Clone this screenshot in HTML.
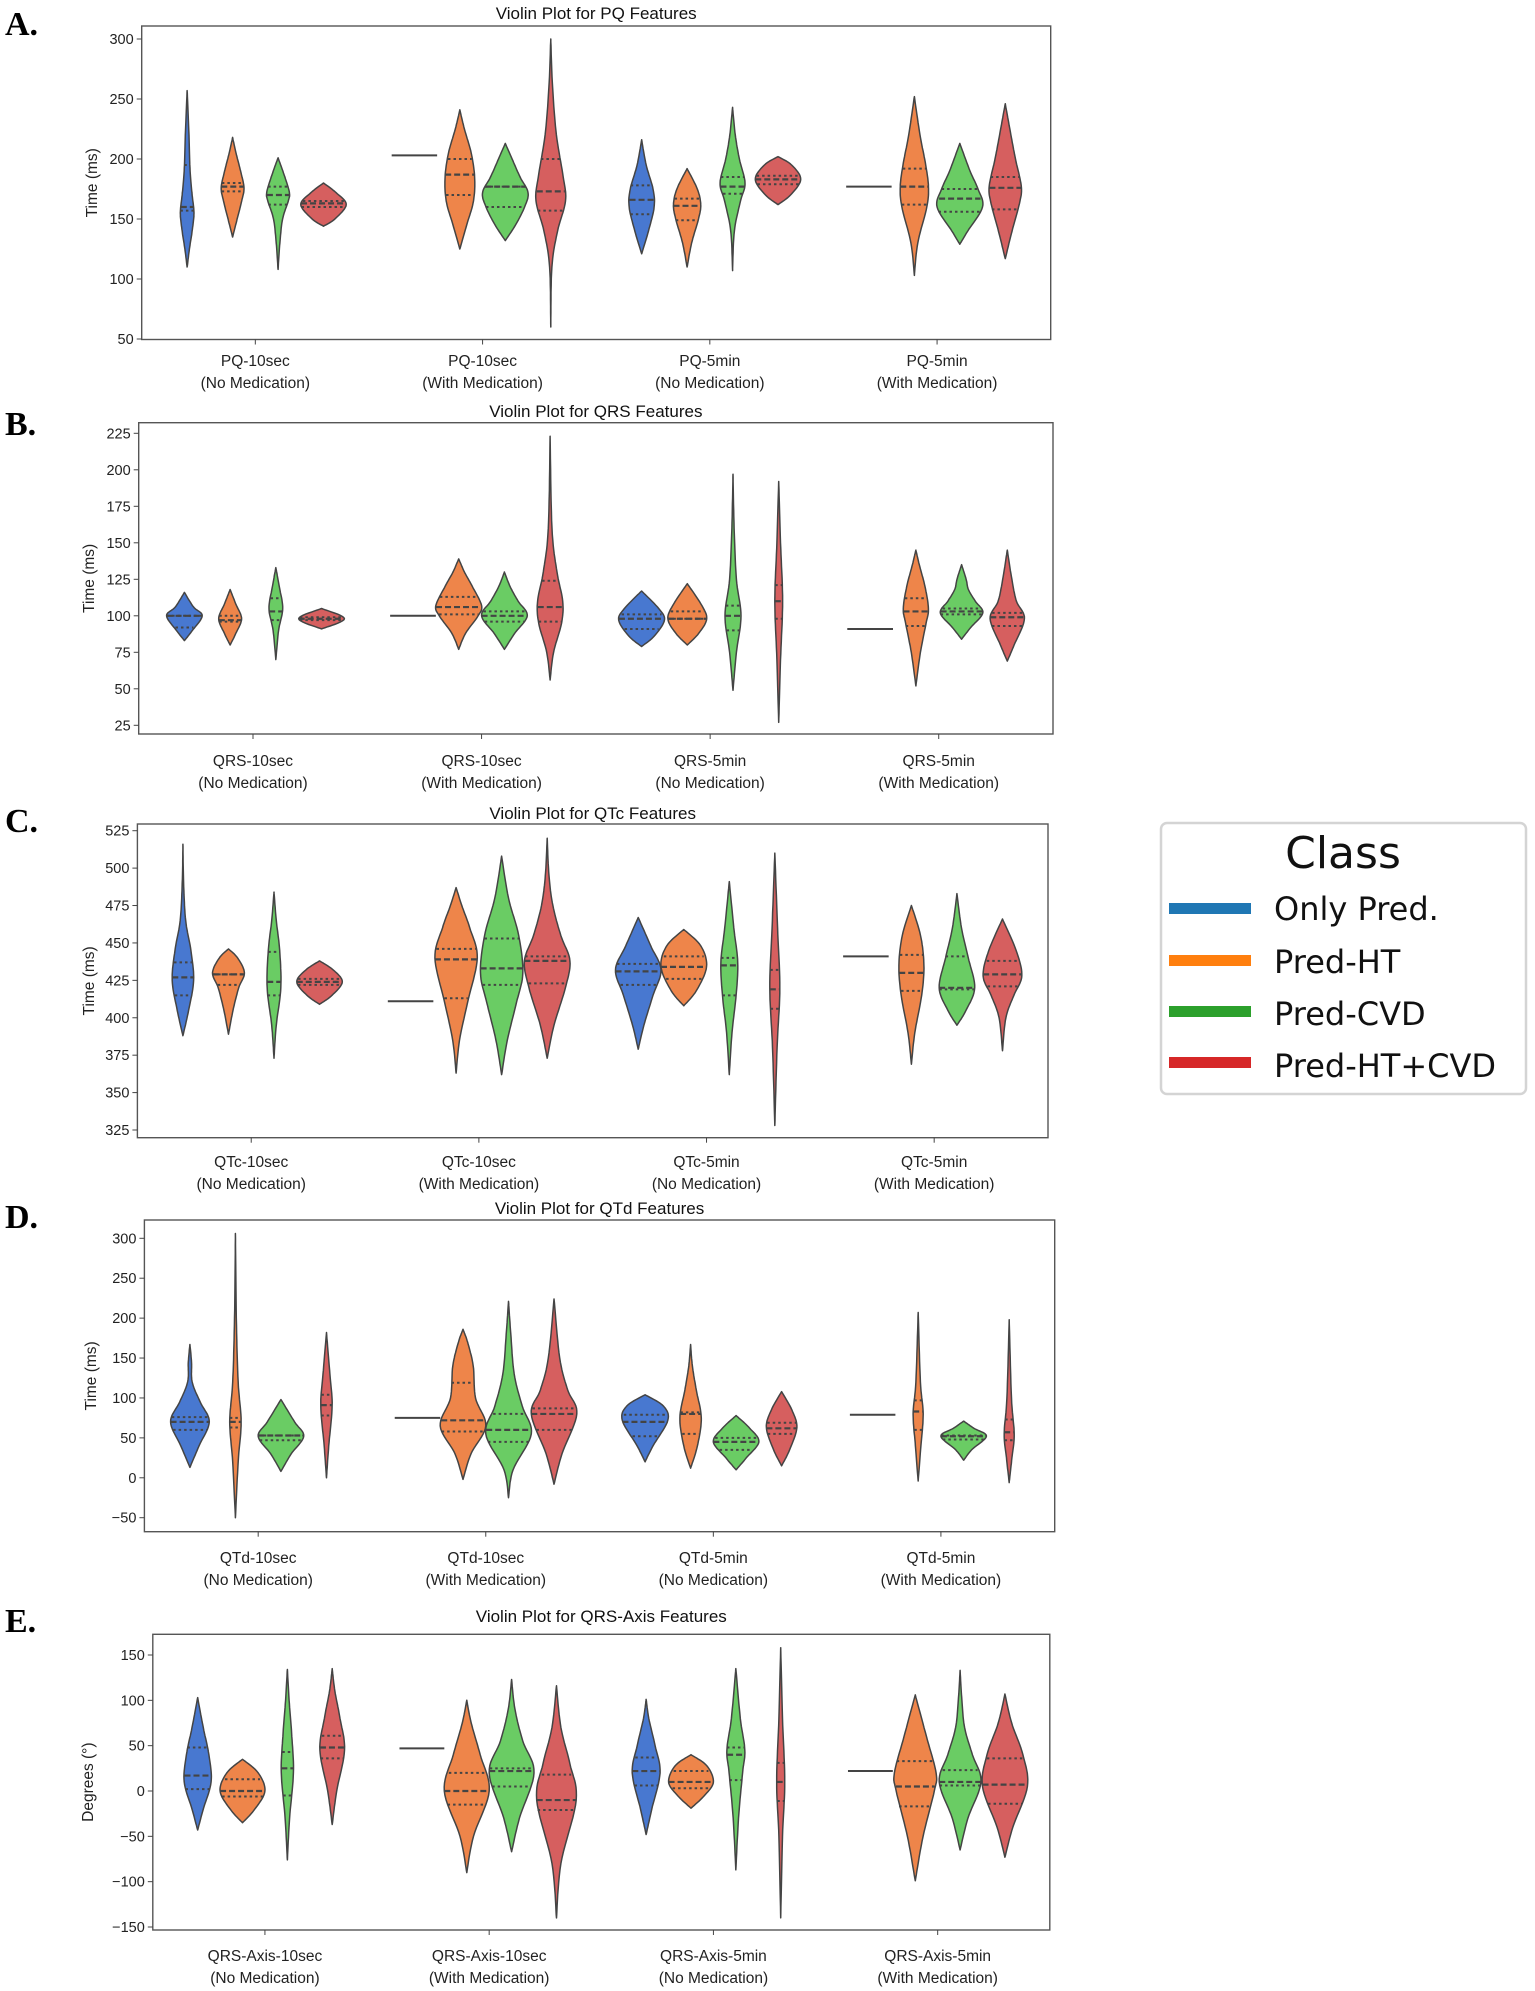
<!DOCTYPE html>
<html><head><meta charset="utf-8"><style>
html,body{margin:0;padding:0;background:#fff;}
svg{display:block;font-family:"Liberation Sans","DejaVu Sans",sans-serif;}
</style></head><body>
<svg id="fig" width="1535" height="1991" viewBox="0 0 1535 1991" xmlns="http://www.w3.org/2000/svg">
<g>
<rect x="1161" y="823" width="365" height="271" rx="6" fill="#fff" stroke="#d4d4d4" stroke-width="2.5"/>
<text x="1343" y="868" font-size="44" text-anchor="middle" font-family="DejaVu Sans,sans-serif" fill="#111">Class</text>
<g><rect x="1169" y="903" width="82" height="11" fill="#1f77b4"/><text x="1274" y="920" font-size="32" font-family="DejaVu Sans,sans-serif" fill="#111">Only Pred.</text></g>
<g><rect x="1169" y="955" width="82" height="11" fill="#ff7f0e"/><text x="1274" y="973" font-size="32" font-family="DejaVu Sans,sans-serif" fill="#111">Pred-HT</text></g>
<g><rect x="1169" y="1006" width="82" height="11" fill="#2ca02c"/><text x="1274" y="1025" font-size="32" font-family="DejaVu Sans,sans-serif" fill="#111">Pred-CVD</text></g>
<g><rect x="1169" y="1057" width="82" height="11" fill="#d62728"/><text x="1274" y="1077" font-size="32" font-family="DejaVu Sans,sans-serif" fill="#111">Pred-HT+CVD</text></g>
</g>
</svg>
<script>
// ---- shared ----
const classNames = ["only-pred","pred-ht","pred-cvd","pred-ht-cvd"];
const medLabels = ["(No Medication)","(With Medication)","(No Medication)","(With Medication)"];

// ---- Panel A: PQ ----
const pqCategories = ["PQ-10sec","PQ-10sec","PQ-5min","PQ-5min"];
const pqTicks = [50,100,150,200,250,300];
const pqOnlyPred = [
 {q:[157,160,195],p:[[110,0],[125,0.1],[140,0.22],[155,0.3],[170,0.22],[190,0.13],[220,0.08],[257,0]]},
 {single:203},
 {q:[154,166,178],p:[[121,0],[140,0.3],[160,0.55],[175,0.5],[195,0.2],[216,0]]},
 {single:177}];
const pqPredHT = [
 {q:[173,177,180],p:[[135,0],[150,0.2],[165,0.4],[176,0.5],[190,0.35],[205,0.15],[218,0]]},
 {q:[170,187,200],p:[[125,0],[145,0.3],[165,0.6],[185,0.65],[205,0.5],[225,0.2],[241,0]]},
 {q:[149,161,167],p:[[110,0],[130,0.2],[150,0.5],[162,0.6],[175,0.45],[192,0]]},
 {q:[162,177,192],p:[[103,0],[130,0.15],[160,0.55],[177,0.62],[195,0.5],[220,0.25],[252,0]]}];
const pqPredCVD = [
 {q:[162,170,177],p:[[108,0],[130,0.08],[150,0.2],[165,0.45],[172,0.5],[185,0.3],[201,0]]},
 {q:[160,177,177],p:[[132,0],[145,0.45],[160,0.85],[172,1],[185,0.65],[200,0.3],[213,0]]},
 {q:[171,177,185],p:[[107,0],[140,0.08],[165,0.35],[180,0.55],[200,0.3],[220,0.12],[243,0]]},
 {q:[156,167,175],p:[[129,0],[140,0.35],[160,1],[175,0.8],[190,0.45],[213,0]]}];
const pqPredHTCVD = [
 {q:[160,163,165],p:[[144,0],[150,0.5],[162,1],[172,0.55],[180,0]]},
 {q:[157,173,200],p:[[60,0],[110,0.05],[140,0.3],[165,0.65],[185,0.55],[220,0.25],[260,0.08],[300,0]]},
 {q:[179,183,186],p:[[162,0],[170,0.55],[183,1],[195,0.6],[202,0]]},
 {q:[158,176,185],p:[[117,0],[140,0.3],[165,0.65],[178,0.7],[200,0.45],[220,0.25],[246,0]]}];

// ---- Panel B: QRS ----
const qrsCategories = ["QRS-10sec","QRS-10sec","QRS-5min","QRS-5min"];
const qrsTicks = [25,50,75,100,125,150,175,200,225];
const qrsOnlyPred = [
 {q:[92,100,100],p:[[83,0],[90,0.35],[100,0.78],[106,0.4],[116,0]]},
 {single:100},
 {q:[91,98,101],p:[[79,0],[86,0.55],[97,1],[105,0.75],[117,0]]},
 {single:91}];
const qrsPredHT = [
 {q:[96,97,100],p:[[80,0],[88,0.25],[98,0.5],[108,0.25],[118,0]]},
 {q:[101,106,113],p:[[77,0],[88,0.3],[100,0.85],[107,1],[120,0.6],[130,0.25],[139,0]]},
 {q:[98,98,103],p:[[80,0],[88,0.5],[98,0.85],[108,0.6],[122,0]]},
 {q:[93,103,112],p:[[52,0],[75,0.2],[95,0.45],[105,0.55],[120,0.4],[135,0.15],[145,0]]}];
const qrsPredCVD = [
 {q:[97,103,112],p:[[70,0],[90,0.12],[105,0.3],[120,0.15],[133,0]]},
 {q:[96,100,103],p:[[77,0],[88,0.45],[100,1],[110,0.6],[120,0.25],[130,0]]},
 {q:[90,100,107],p:[[49,0],[75,0.15],[100,0.35],[125,0.15],[160,0.05],[197,0]]},
 {q:[101,103,105],p:[[84,0],[92,0.4],[102,0.93],[110,0.6],[118,0.3],[125,0.2],[135,0]]}];
const qrsPredHTCVD = [
 {q:[97,98,99],p:[[91,0],[98,1],[105,0]]},
 {q:[96,106,124],p:[[56,0],[75,0.15],[95,0.5],[110,0.55],[130,0.3],[160,0.08],[223,0]]},
 {q:[98,110,121],p:[[27,0],[70,0.08],[110,0.17],[150,0.08],[192,0]]},
 {q:[93,99,102],p:[[69,0],[80,0.3],[98,0.75],[110,0.4],[125,0.2],[145,0]]}];

// ---- Panel C: QTc ----
const qtcCategories = ["QTc-10sec","QTc-10sec","QTc-5min","QTc-5min"];
const qtcTicks = [325,350,375,400,425,450,475,500,525];
const qtcOnlyPred = [
 {q:[415,427,437],p:[[388,0],[405,0.25],[425,0.47],[445,0.35],[465,0.12],[490,0.03],[516,0]]},
 {single:411},
 {q:[422,431,436],p:[[379,0],[395,0.25],[415,0.65],[432,1],[448,0.55],[467,0]]},
 {single:441}];
const qtcPredHT = [
 {q:[422,429,429],p:[[389,0],[405,0.2],[420,0.45],[430,0.7],[440,0.4],[446,0]]},
 {q:[413,439,446],p:[[363,0],[385,0.15],[410,0.5],[440,0.93],[460,0.6],[475,0.25],[487,0]]},
 {q:[426,434,441],p:[[408,0],[418,0.55],[434,1],[448,0.75],[459,0]]},
 {q:[418,430,442],p:[[369,0],[390,0.15],[415,0.45],[435,0.55],[455,0.4],[475,0]]}];
const qtcPredCVD = [
 {q:[415,424,444],p:[[373,0],[395,0.1],[420,0.3],[445,0.25],[465,0.1],[484,0]]},
 {q:[422,433,453],p:[[362,0],[385,0.25],[410,0.65],[430,0.93],[455,0.75],[480,0.3],[508,0]]},
 {q:[415,435,440],p:[[362,0],[390,0.12],[415,0.3],[437,0.37],[460,0.2],[491,0]]},
 {q:[419,420,441],p:[[395,0],[405,0.4],[420,0.78],[440,0.5],[460,0.2],[483,0]]}];
const qtcPredHTCVD = [
 {q:[422,424,426],p:[[409,0],[415,0.55],[424,1],[432,0.6],[438,0]]},
 {q:[423,438,441],p:[[373,0],[395,0.3],[420,0.8],[438,1],[455,0.6],[475,0.25],[495,0.08],[520,0]]},
 {q:[406,419,432],p:[[328,0],[380,0.1],[420,0.22],[460,0.12],[510,0]]},
 {q:[421,429,438],p:[[378,0],[400,0.15],[415,0.5],[428,0.85],[445,0.6],[466,0]]}];

// ---- Panel D: QTd ----
const qtdCategories = ["QTd-10sec","QTd-10sec","QTd-5min","QTd-5min"];
const qtdTicks = [-50,0,50,100,150,200,250,300];
const qtdOnlyPred = [
 {q:[60,70,76],p:[[13,0],[40,0.4],[70,0.85],[95,0.45],[120,0.1],[145,0.07],[167,0]]},
 {single:75},
 {q:[52,70,79],p:[[20,0],[40,0.35],[72,1],[90,0.8],[104,0]]},
 {single:79}];
const qtdPredHT = [
 {q:[63,70,75],p:[[-50,0],[20,0.12],[70,0.25],[120,0.12],[200,0.04],[306,0]]},
 {q:[58,72,119],p:[[-2,0],[30,0.35],[65,1],[100,0.55],[140,0.45],[170,0.2],[186,0]]},
 {q:[55,80,82],p:[[12,0],[40,0.3],[75,0.47],[110,0.25],[140,0.08],[167,0]]},
 {q:[60,83,97],p:[[-4,0],[40,0.12],[80,0.22],[120,0.1],[207,0]]}];
const qtdPredCVD = [
 {q:[47,53,53],p:[[8,0],[30,0.45],[52,1],[70,0.6],[98,0]]},
 {q:[45,60,80],p:[[-25,0],[10,0.2],[55,1],[90,0.6],[130,0.25],[180,0.1],[221,0]]},
 {q:[35,45,50],p:[[10,0],[25,0.45],[45,1],[62,0.6],[78,0]]},
 {q:[48,52,53],p:[[22,0],[35,0.35],[52,1],[62,0.45],[71,0]]}];
const qtdPredHTCVD = [
 {q:[78,91,104],p:[[0,0],[40,0.1],[90,0.25],[130,0.15],[182,0]]},
 {q:[60,80,87],p:[[-8,0],[30,0.35],[80,1],[110,0.6],[150,0.25],[224,0]]},
 {q:[55,62,69],p:[[15,0],[35,0.35],[63,0.67],[85,0.45],[108,0]]},
 {q:[47,57,73],p:[[-6,0],[25,0.12],[55,0.22],[100,0.1],[198,0]]}];

// ---- Panel E: QRS-Axis ----
const axisCategories = ["QRS-Axis-10sec","QRS-Axis-10sec","QRS-Axis-5min","QRS-Axis-5min"];
const axisTicks = [-150,-100,-50,0,50,100,150];
const axisOnlyPred = [
 {q:[2,17,48],p:[[-43,0],[-20,0.25],[10,0.6],[40,0.5],[70,0.25],[103,0]]},
 {single:47},
 {q:[6,22,37],p:[[-48,0],[-20,0.25],[20,0.62],[50,0.4],[80,0.12],[101,0]]},
 {single:22}];
const axisPredHT = [
 {q:[-6,0,13],p:[[-35,0],[-20,0.55],[0,1],[20,0.7],[35,0]]},
 {q:[-15,0,20],p:[[-90,0],[-50,0.3],[0,1],[40,0.6],[75,0.2],[100,0]]},
 {q:[3,10,22],p:[[-19,0],[-5,0.6],[10,1],[28,0.7],[40,0]]},
 {q:[-17,5,33],p:[[-99,0],[-50,0.35],[0,0.85],[20,0.93],[60,0.5],[106,0]]}];
const axisPredCVD = [
 {q:[-5,25,43],p:[[-76,0],[-30,0.1],[20,0.27],[60,0.2],[100,0.08],[134,0]]},
 {q:[5,22,25],p:[[-67,0],[-30,0.35],[20,1],[55,0.5],[90,0.15],[123,0]]},
 {q:[12,40,48],p:[[-87,0],[-30,0.12],[20,0.3],[45,0.4],[80,0.2],[135,0]]},
 {q:[6,10,23],p:[[-65,0],[-30,0.35],[10,0.93],[40,0.55],[70,0.2],[100,0.08],[133,0]]}];
const axisPredHTCVD = [
 {q:[36,48,61],p:[[-37,0],[0,0.2],[45,0.55],[80,0.35],[110,0.12],[135,0]]},
 {q:[-21,-10,18],p:[[-140,0],[-80,0.2],[-10,0.88],[30,0.6],[70,0.2],[116,0]]},
 {q:[-11,10,31],p:[[-140,0],[-50,0.08],[10,0.18],[80,0.08],[158,0]]},
 {q:[-14,7,36],p:[[-73,0],[-40,0.35],[5,1],[40,0.8],[75,0.3],[107,0]]}];

// ---- layout (positions, not data) ----
const panels = [
 {id:"pq",letter:"A.",title:"Violin Plot for PQ Features",ylab:"Time (ms)",cats:pqCategories,ticks:pqTicks,series:[pqOnlyPred,pqPredHT,pqPredCVD,pqPredHTCVD],
  L:141.7,R:1050.7,T:26,B:339.5,v0:50,p0:339,v1:300,p1:39,titleY:19,lab1:366,lab2:388,letterY:35,ylabX:92},
 {id:"qrs",letter:"B.",title:"Violin Plot for QRS Features",ylab:"Time (ms)",cats:qrsCategories,ticks:qrsTicks,series:[qrsOnlyPred,qrsPredHT,qrsPredCVD,qrsPredHTCVD],
  L:138.7,R:1053,T:422.7,B:734,v0:25,p0:725.3,v1:225,p1:433.3,titleY:417,lab1:766,lab2:788,letterY:435,ylabX:89},
 {id:"qtc",letter:"C.",title:"Violin Plot for QTc Features",ylab:"Time (ms)",cats:qtcCategories,ticks:qtcTicks,series:[qtcOnlyPred,qtcPredHT,qtcPredCVD,qtcPredHTCVD],
  L:137.4,R:1048,T:824,B:1137.7,v0:325,p0:1130,v1:525,p1:830.7,titleY:819,lab1:1167,lab2:1189,letterY:832,ylabX:89},
 {id:"qtd",letter:"D.",title:"Violin Plot for QTd Features",ylab:"Time (ms)",cats:qtdCategories,ticks:qtdTicks,series:[qtdOnlyPred,qtdPredHT,qtdPredCVD,qtdPredHTCVD],
  L:144.4,R:1054.7,T:1220,B:1531.7,v0:-50,p0:1517.7,v1:300,p1:1238.3,titleY:1214,lab1:1563,lab2:1585,letterY:1228,ylabX:91},
 {id:"axis",letter:"E.",title:"Violin Plot for QRS-Axis Features",ylab:"Degrees (°)",cats:axisCategories,ticks:axisTicks,series:[axisOnlyPred,axisPredHT,axisPredCVD,axisPredHTCVD],
  L:152.8,R:1049.8,T:1634.3,B:1930,v0:-150,p0:1927,v1:150,p1:1655,titleY:1622,lab1:1961,lab2:1983,letterY:1632,ylabX:88}
];
const fills = ["#4878d0","#ee854a","#6acc64","#d65f5f"];
const edge = "#444";
const NS = "http://www.w3.org/2000/svg";
const svg = document.getElementById("fig");
function mk(tag, attrs, parent){ const e=document.createElementNS(NS,tag); for(const k in attrs) e.setAttribute(k,attrs[k]); parent.appendChild(e); return e; }

function widthAt(prof, v){
  if(v<=prof[0][0]||v>=prof[prof.length-1][0]) return 0;
  for(let i=0;i<prof.length-1;i++){ const a=prof[i],b=prof[i+1]; if(v>=a[0]&&v<=b[0]){ const t=(v-a[0])/(b[0]-a[0]); const s=(1-Math.cos(Math.PI*t))/2; return a[1]+(b[1]-a[1])*s; } }
  return 0;
}
function smoothPts(prof, yf, xc, hw, sign){
  const P = prof.map(p=>[xc+sign*p[1]*hw, yf(p[0])]);
  const out=[];
  for(let i=0;i<P.length-1;i++){
    const p0=P[Math.max(0,i-1)],p1=P[i],p2=P[i+1],p3=P[Math.min(P.length-1,i+2)];
    for(let s=0;s<10;s++){ const t=s/10,t2=t*t,t3=t2*t;
      const f=(a,b,c,d)=>0.5*((2*b)+(-a+c)*t+(2*a-5*b+4*c-d)*t2+(-a+3*b-3*c+d)*t3);
      let x=f(p0[0],p1[0],p2[0],p3[0]);
      if(sign>0) x=Math.max(xc,x); else x=Math.min(xc,x);
      out.push([x,f(p0[1],p1[1],p2[1],p3[1])]); }
  }
  out.push(P[P.length-1]); return out;
}

panels.forEach(pn=>{
  const g = mk("g",{},svg);
  
  
  const yf = v => pn.p0 + (v-pn.v0)*(pn.p1-pn.p0)/(pn.v1-pn.v0);
  const catW = (pn.R-pn.L)/pn.cats.length;
  const xc = i => pn.L + catW*(i+0.5);
  const hw = catW*0.1;

  const letter = mk("text",{x:5,y:pn.letterY,"font-size":34,"font-weight":"bold","font-family":"Liberation Serif,serif",fill:"#000"},g);
  letter.textContent = pn.letter;
  
  

  const title = mk("text",{x:(pn.L+pn.R)/2,y:pn.titleY,"font-size":17,"text-anchor":"middle",fill:"#111"},g);
  title.textContent = pn.title;
  
  

  const frame = mk("rect",{x:pn.L,y:pn.T,width:pn.R-pn.L,height:pn.B-pn.T,fill:"none",stroke:"#555","stroke-width":1.4},g);
  
  

  pn.ticks.forEach(t=>{
    const y=yf(t);
    const tk=mk("line",{x1:pn.L-5,x2:pn.L,y1:y,y2:y,stroke:"#444","stroke-width":1},g);
    
    
    const tl=mk("text",{x:pn.L-8,y:y+5,"font-size":14.5,"text-anchor":"end",fill:"#222"},g);
    tl.textContent = String(t).replace('-','\u2212');
    
    
  });
  const yl = mk("text",{x:pn.ylabX,y:(pn.T+pn.B)/2,"font-size":15.5,"text-anchor":"middle",fill:"#222",transform:`rotate(-90 ${pn.ylabX} ${(pn.T+pn.B)/2})`,dy:5},g);
  yl.textContent = pn.ylab;
  
  

  pn.cats.forEach((c,i)=>{
    const x=xc(i);
    const tk=mk("line",{x1:x,x2:x,y1:pn.B,y2:pn.B+5,stroke:"#444","stroke-width":1},g);
    
    
    const t1=mk("text",{x:x,y:pn.lab1,"font-size":15.5,"text-anchor":"middle",fill:"#222"},g);
    t1.textContent = c;
    
    
    const t2=mk("text",{x:x,y:pn.lab2,"font-size":15.5,"text-anchor":"middle",fill:"#222"},g);
    t2.textContent = medLabels[i];
    
    
  });

  pn.series.forEach((ser,h)=>{
    ser.forEach((d,i)=>{
      const cx = xc(i) + (h-1.5)*catW*0.2;
      if(d.single!==undefined){
        const ln=mk("line",{x1:cx-hw,x2:cx+hw,y1:yf(d.single),y2:yf(d.single),stroke:edge,"stroke-width":2},g);
        
        
        return;
      }
      const right = smoothPts(d.p,yf,cx,hw,1);
      const left = smoothPts(d.p,yf,cx,hw,-1).reverse();
      const pts = right.concat(left);
      const path = "M"+pts.map(p=>p[0].toFixed(1)+","+p[1].toFixed(1)).join("L")+"Z";
      const vg = mk("g",{},g);
      
      
      mk("path",{d:path,fill:fills[h],stroke:edge,"stroke-width":1.5,"stroke-linejoin":"round"},vg);
      d.q.forEach((qv,k)=>{
        const w = widthAt(d.p,qv)*hw;
        const ql=mk("line",{x1:cx-w,x2:cx+w,y1:yf(qv),y2:yf(qv),stroke:edge,"stroke-width":k===1?2.2:2,"stroke-dasharray":k===1?"6,3":"2.5,3"},vg);
        
        
      });
    });
  });
});
</script>
</body></html>
